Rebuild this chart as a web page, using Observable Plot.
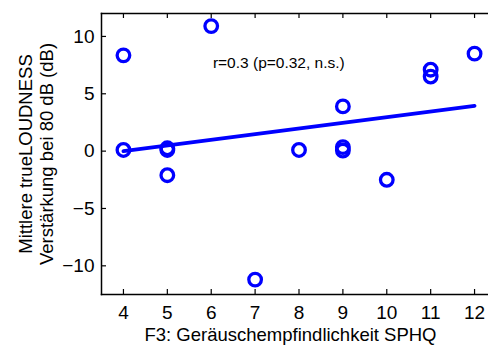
<!DOCTYPE html>
<html>
<head>
<meta charset="utf-8">
<script src="https://cdn.jsdelivr.net/npm/d3@7"></script>
<script src="https://cdn.jsdelivr.net/npm/@observablehq/plot@0.6"></script>
<style>
  html, body { margin: 0; padding: 0; background: #fff; overflow: hidden; }
  #chart svg { display: block; max-width: none !important; height: 345px !important; }
</style>
</head>
<body>
<div id="chart"></div>
<script>
// Data
const sphq = [4, 4, 5, 5, 5, 6, 7, 8, 9, 9, 9, 10, 11, 11, 12];
const gain = [8.35, 0.1, 0.25, 0.1, -2.1, 10.9, -11.2, 0.1, 3.9, 0.35, 0.05, -2.5, 7.1, 6.5, 8.5];
const fitX = [4, 12];
const fitY = [0.0, 3.95];
const xTicks = [4, 5, 6, 7, 8, 9, 10, 11, 12];
const yTicks = [-10, -5, 0, 5, 10];
const xDomain = [3.5, 12.5];
const yDomain = [-12.5, 12];
const annotation = "r=0.3 (p=0.32, n.s.)";
const annotX = 7.54;
const annotY = 7.72;
const xLabel = "F3: Geräuschempfindlichkeit SPHQ";
const yLabel = "Mittlere trueLOUDNESS\nVerstärkung bei 80 dB (dB)";

const points = sphq.map((x, i) => ({x, y: gain[i]}));
const fit = fitX.map((x, i) => ({x, y: fitY[i]}));

const W = 496, H = 345;
const mL = 101, mR = 0, mT = 13, mB = 51;
const plotW = W - mL - mR, plotH = H - mT - mB;
const blue = "#0000ff";

const chart = Plot.plot({
  width: W,
  height: H,
  marginLeft: mL,
  marginRight: mR,
  marginTop: mT,
  marginBottom: mB,
  style: {fontFamily: "'Liberation Sans', Arial, Helvetica, sans-serif", background: "#fff", color: "#000"},
  x: {domain: xDomain},
  y: {domain: yDomain},
  marks: [
    // spines
    Plot.frame({anchor: "left", stroke: "#000", strokeWidth: 1.5}),
    Plot.frame({anchor: "bottom", stroke: "#000", strokeWidth: 1.5}),
    Plot.frame({anchor: "top", stroke: "#000", strokeWidth: 1.5}),
    Plot.frame({anchor: "right", stroke: "#000", strokeWidth: 1.5}),
    // inward ticks
    Plot.ruleX(xTicks, {x: d => d, insetTop: plotH - 5, stroke: "#000", strokeWidth: 1.2}),
    Plot.ruleX(xTicks, {x: d => d, insetBottom: plotH - 5, stroke: "#000", strokeWidth: 1.2}),
    Plot.ruleY(yTicks, {y: d => d, insetRight: plotW - 5, stroke: "#000", strokeWidth: 1.2}),
    // tick labels
    Plot.axisX(xTicks, {tickSize: 0, tickPadding: 11, fontSize: 19, label: null}),
    Plot.axisY(yTicks, {tickSize: 0, tickPadding: 7, fontSize: 19, label: null, tickFormat: d => d < 0 ? "\u2212" + Math.abs(d) : String(d)}),
    // axis titles
    Plot.text([xLabel], {text: d => d, frameAnchor: "bottom", dy: 40.5, dx: 290 - (mL + plotW / 2), fontSize: 18.5, lineAnchor: "middle", textAnchor: "middle"}),
    Plot.text([yLabel], {text: d => d, frameAnchor: "left", dx: -66, rotate: -90, fontSize: 18.5, lineHeight: 1.14, lineAnchor: "middle", textAnchor: "middle"}),
    // annotation
    Plot.text([annotation], {x: annotX, y: annotY, text: d => d, fontSize: 15.5}),
    // regression line
    Plot.line(fit, {x: "x", y: "y", stroke: blue, strokeWidth: 3.8}),
    // data points
    Plot.dot(points, {x: "x", y: "y", r: 6.3, stroke: blue, strokeWidth: 3.3, fill: "none"})
  ]
});
document.getElementById("chart").appendChild(chart);
</script>
</body>
</html>
